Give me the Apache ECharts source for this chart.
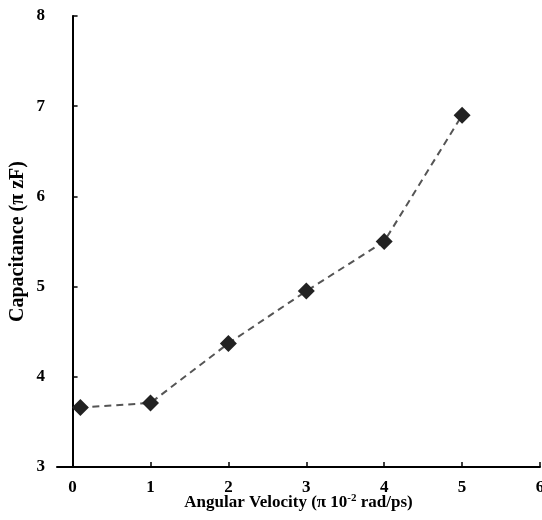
<!DOCTYPE html>
<html><head><meta charset="utf-8">
<script src="https://cdn.jsdelivr.net/npm/echarts@6/dist/echarts.min.js"></script>
<style>html,body{margin:0;padding:0;background:#fff}#c{width:542px;height:520px}</style>
</head><body><div id="c"></div>
<script>
var xValues = [0.1, 1, 2, 3, 4, 5];
var capacitance = [3.66, 3.71, 4.37, 4.95, 5.50, 6.90];
var xTicks = [0, 1, 2, 3, 4, 5, 6];
var yTicks = [3, 4, 5, 6, 7, 8];
var font = '"Liberation Serif","Times New Roman",serif';
var chart = echarts.init(document.getElementById('c'));
chart.setOption({
  animation: false,
  grid: {left: 57, right: 2, top: 16, bottom: 53, outerBoundsMode: 'none', containLabel: false},
  xAxis: {
    type: 'value', min: -0.2, max: 6, interval: 1,
    axisLine: {show: true, lineStyle: {color: '#000', width: 2}},
    axisTick: {show: true, inside: true, length: 5, lineStyle: {color: '#000', width: 1.5}, customValues: xTicks},
    axisLabel: {customValues: xTicks, color: '#000', fontFamily: font, fontWeight: 'bold', fontSize: 17, margin: 12},
    splitLine: {show: false},
    name: '{a|Angular Velocity (π 10}{s|-2}{a| rad/ps)}',
    nameLocation: 'middle', nameGap: 26, nameMoveOverlap: false,
    nameTextStyle: {
      rich: {
        a: {fontFamily: font, fontWeight: 'bold', fontSize: 17, color: '#000'},
        s: {fontFamily: font, fontWeight: 'bold', fontSize: 11, color: '#000', verticalAlign: 'top', padding: [0, 0, 8, 0]}
      }
    }
  },
  yAxis: {
    type: 'value', min: 3, max: 8, interval: 1,
    axisLine: {show: true, lineStyle: {color: '#000', width: 2}},
    axisTick: {show: true, inside: true, length: 5, lineStyle: {color: '#000', width: 1.5}, customValues: yTicks},
    axisLabel: {customValues: yTicks, color: '#000', fontFamily: font, fontWeight: 'bold', fontSize: 17, margin: 12},
    splitLine: {show: false},
    name: 'Capacitance (π zF)', nameLocation: 'middle', nameGap: 29, nameMoveOverlap: false,
    nameTextStyle: {fontFamily: font, fontWeight: 'bold', fontSize: 20, color: '#000'}
  },
  series: [{
    type: 'line',
    data: xValues.map(function (x, i) { return [x, capacitance[i]]; }),
    symbol: 'diamond', symbolSize: 17,
    itemStyle: {color: '#222'},
    lineStyle: {color: '#555', width: 2, type: [7, 5]}
  }]
});
</script></body></html>
